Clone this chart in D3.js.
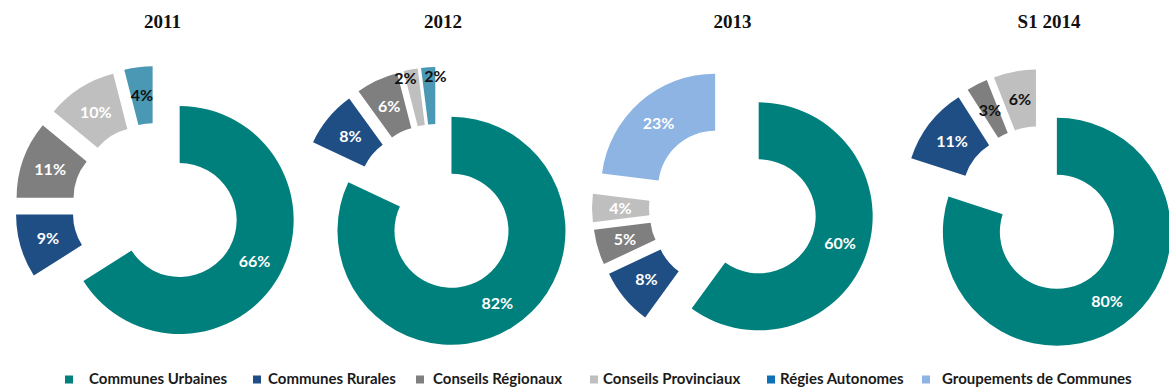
<!DOCTYPE html>
<html>
<head>
<meta charset="utf-8">
<script src="https://cdn.jsdelivr.net/npm/d3@7"></script>
<style>
  html, body { margin: 0; padding: 0; background: #ffffff; }
  svg { display: block; }
</style>
</head>
<body>
<svg id="chart" width="1169" height="390"></svg>
<script>
// Répartition par type de collectivité, en %
const categories = [
  "Communes Urbaines",
  "Communes Rurales",
  "Conseils Régionaux",
  "Conseils Provinciaux",
  "Régies Autonomes",
  "Groupements de Communes"
];
const periods = ["2011", "2012", "2013", "S1 2014"];

const values2011   = [66, 9, 11, 10, 4, 0];
const values2012   = [82, 8, 6, 2, 2, 0];
const values2013   = [60, 8, 5, 4, 0, 23];
const valuesS12014 = [80, 11, 3, 6, 0, 0];

const seriesByPeriod = [values2011, values2012, values2013, valuesS12014];

// Styling
const sliceColors  = ["#00807c", "#1f4e85", "#7f7f7f", "#bfbfbf", "#4a98b4", "#8db4e2"];
const legendColors = ["#00807c", "#1f4e85", "#7f7f7f", "#bfbfbf", "#0e71b8", "#8db4e2"];
// category indices whose labels are written in black, per period
const darkLabels = [[4], [3, 4], [], [2, 3]];

// Layout
const centers = [[156, 207], [437, 208], [733, 208], [1041, 210]];
const titleX = [162.5, 443, 732.5, 1049];
const outerR = 114, innerR = 57, explode = 27;
const legendSquareX = [65, 253, 416, 590, 767, 922];
const legendTextX   = [89, 268, 433, 603, 780, 942];

const svg = d3.select("#chart");

const pie = d3.pie().sort(null).value(d => d.value).startAngle(0).endAngle(2 * Math.PI);
const arc = d3.arc().innerRadius(innerR).outerRadius(outerR);

periods.forEach((period, pi) => {
  const [cx, cy] = centers[pi];
  const rows = categories
    .map((name, ci) => ({ name, ci, value: seriesByPeriod[pi][ci] }))
    .filter(d => d.value > 0);
  const arcs = pie(rows);

  svg.append("text")
    .attr("x", titleX[pi])
    .attr("y", 28)
    .attr("text-anchor", "middle")
    .attr("font-family", "'Liberation Serif', 'Times New Roman', serif")
    .attr("font-weight", "bold")
    .attr("font-size", 19)
    .attr("fill", "#111")
    .text(period);

  const g = svg.append("g").attr("transform", `translate(${cx},${cy})`);

  const offset = a => {
    const mid = (a.startAngle + a.endAngle) / 2;
    return [Math.sin(mid) * explode, -Math.cos(mid) * explode];
  };

  g.selectAll("path.slice")
    .data(arcs)
    .join("path")
    .attr("class", "slice")
    .attr("transform", a => `translate(${offset(a)})`)
    .attr("d", arc)
    .attr("fill", a => sliceColors[a.data.ci]);

  // label positions: ring middle, or near the outer rim for very thin slices
  const labels = arcs.map(a => {
    const mid = (a.startAngle + a.endAngle) / 2;
    const [ox, oy] = offset(a);
    const r = a.data.value < 3 ? outerR * 0.92 : (innerR + outerR) / 2;
    return { a, x: ox + Math.sin(mid) * r, y: oy - Math.cos(mid) * r };
  });
  // keep neighbouring labels from overlapping
  const minSep = 30;
  for (let i = 0; i < labels.length - 1; i++) {
    const p = labels[i], q = labels[i + 1];
    if (Math.abs(q.y - p.y) < 14 && Math.abs(q.x - p.x) < minSep - 1) {
      const m = (p.x + q.x) / 2, s = q.x >= p.x ? 1 : -1;
      p.x = m - s * minSep / 2;
      q.x = m + s * minSep / 2;
    }
  }

  g.selectAll("text.lbl")
    .data(labels)
    .join("text")
    .attr("class", "lbl")
    .attr("x", l => l.x)
    .attr("y", l => l.y)
    .attr("dy", "0.36em")
    .attr("text-anchor", "middle")
    .attr("font-family", "Lato, 'Open Sans', sans-serif")
    .attr("font-weight", "bold")
    .attr("font-size", 16)
    .attr("fill", l => darkLabels[pi].includes(l.a.data.ci) ? "#111111" : "#ffffff")
    .text(l => l.a.data.value + "%");
});

// Legend
const legend = svg.append("g");
categories.forEach((name, ci) => {
  legend.append("rect")
    .attr("x", legendSquareX[ci])
    .attr("y", 375.5)
    .attr("width", 8)
    .attr("height", 8)
    .attr("fill", legendColors[ci]);
  legend.append("text")
    .attr("x", legendTextX[ci])
    .attr("y", 384)
    .attr("font-family", "Lato, 'Open Sans', sans-serif")
    .attr("font-weight", "bold")
    .attr("font-size", 15)
    .attr("fill", "#1a1a1a")
    .text(name);
});
</script>
</body>
</html>
